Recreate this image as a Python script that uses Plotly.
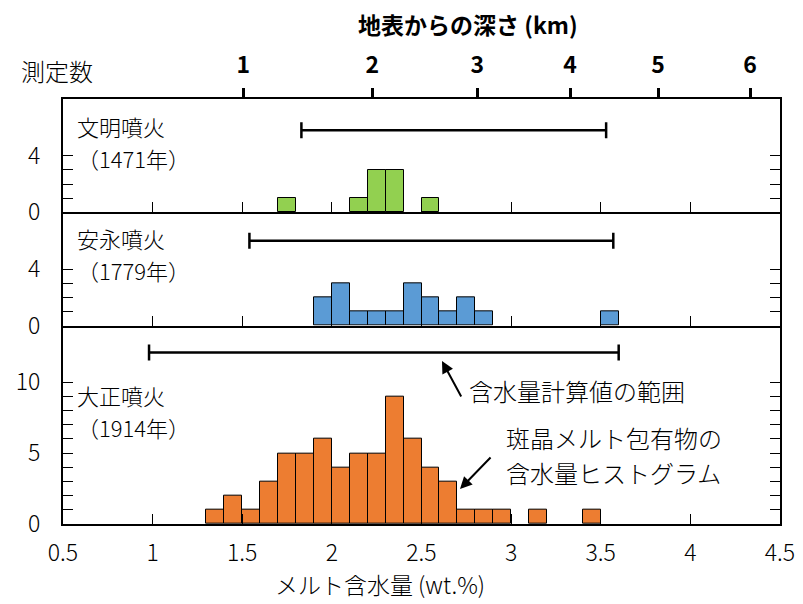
import plotly.graph_objects as go

# ---------------- data ----------------
# histogram bins (left edge, wt.%) and counts, bin width 0.1
bin_width = 0.1
bunmei_bins = [1.7, 2.1, 2.2, 2.3, 2.5]
bunmei_counts = [1, 1, 3, 3, 1]

anei_bins = [1.9, 2.0, 2.1, 2.2, 2.3, 2.4, 2.5, 2.6, 2.7, 2.8, 3.5]
anei_counts = [2, 3, 1, 1, 1, 3, 2, 1, 2, 1, 1]

taisho_bins = [1.3, 1.4, 1.5, 1.6, 1.7, 1.8, 1.9, 2.0, 2.1, 2.2,
               2.3, 2.4, 2.5, 2.6, 2.7, 2.8, 2.9, 3.1, 3.4]
taisho_counts = [1, 2, 1, 3, 5, 5, 6, 4, 5, 5,
                 9, 6, 4, 3, 1, 1, 1, 1, 1]

# range of calculated water content (lo, hi) and the height it is drawn at
range_lo = {"bunmei": 1.83, "anei": 1.54, "taisho": 0.98}
range_hi = {"bunmei": 3.53, "anei": 3.57, "taisho": 3.60}
range_level = {"bunmei": 5.8, "anei": 6.0, "taisho": 12.1}

# top axis: depth below surface (km) and its position on the water-content scale
depth_labels = ["1", "2", "3", "4", "5", "6"]
depth_water = [1.506, 2.225, 2.811, 3.329, 3.820, 4.333]

x_ticks = [0.5, 1.0, 1.5, 2.0, 2.5, 3.0, 3.5, 4.0, 4.5]
x_ticktext = ["0.5", "1", "1.5", "2", "2.5", "3", "3.5", "4", "4.5"]

colors = {"bunmei": "#92D050", "anei": "#5B9BD5", "taisho": "#ED7D31"}

FONT = "Noto Sans CJK JP, Noto Sans, sans-serif"
FS = 24
TFS = 23
LFS = 22

# page offset (body margin of the html page)
OFF = 8
W, H = 803 - OFF, 604 - OFF

# ---------------- figure ----------------
fig = go.Figure()

panels = [
    ("bunmei", bunmei_bins, bunmei_counts, "x3", "y3"),
    ("anei", anei_bins, anei_counts, "x2", "y2"),
    ("taisho", taisho_bins, taisho_counts, "x", "y"),
]

for key, bins, counts, xa, ya in panels:
    centers = [b + bin_width / 2 for b in bins]
    fig.add_trace(go.Bar(
        x=centers, y=counts, width=bin_width,
        marker=dict(color=colors[key], line=dict(color="black", width=1)),
        xaxis=xa, yaxis=ya, showlegend=False, hoverinfo="skip",
    ))
    lo, hi = range_lo[key], range_hi[key]
    fig.add_trace(go.Scatter(
        x=[(lo + hi) / 2], y=[range_level[key]],
        mode="markers", marker=dict(size=1, color="rgba(0,0,0,0)"),
        error_x=dict(type="data", array=[(hi - lo) / 2], symmetric=True,
                     color="black", thickness=2.5, width=8),
        xaxis=xa, yaxis=ya, showlegend=False, hoverinfo="skip",
    ))

# invisible trace for the top depth axis
fig.add_trace(go.Scatter(x=depth_water, y=[None] * len(depth_water),
                         xaxis="x4", yaxis="y3", mode="markers",
                         showlegend=False, hoverinfo="skip"))

H_TOP, H_MID, H_BOT = 8, 8, 14
TOT = H_TOP + H_MID + H_BOT
d_bot = [0, H_BOT / TOT]
d_mid = [H_BOT / TOT, (H_BOT + H_MID) / TOT]
d_top = [(H_BOT + H_MID) / TOT, 1]

tickfont = dict(family=FONT, size=TFS, color="black", weight=300)

xcommon = dict(range=[0.5, 4.5], showgrid=False, zeroline=False,
               showline=True, linewidth=2, linecolor="black",
               ticks="inside", ticklen=10, tickwidth=1.2, tickcolor="black",
               tickvals=x_ticks, ticktext=x_ticktext, automargin=False)

ycommon = dict(showgrid=False, zeroline=False, showline=True, linewidth=2,
               linecolor="black", mirror="ticks", ticks="inside", ticklen=10,
               tickwidth=1.2, tickcolor="black", automargin=False,
               tickfont=tickfont, ticklabelstandoff=16)

# plot area in page pixels: x 63..780, y 99..524
fig.update_layout(
    width=W, height=H,
    margin=dict(l=63 - OFF, r=W - (780 - OFF), t=99 - OFF, b=H - (524 - OFF),
                autoexpand=False),
    paper_bgcolor="white", plot_bgcolor="white",
    bargap=0,
    font=dict(family=FONT, size=FS, color="black"),
    xaxis=dict(**xcommon, anchor="y", showticklabels=True, mirror=False,
               tickfont=tickfont, ticklabelstandoff=7),
    xaxis2=dict(**xcommon, anchor="y2", showticklabels=False, matches="x",
                mirror=False),
    xaxis3=dict(**xcommon, anchor="y3", showticklabels=False, matches="x",
                mirror=True),
    xaxis4=dict(range=[0.5, 4.5], overlaying="x3", anchor="y3", side="top",
                showgrid=False, zeroline=False, showline=False, automargin=False,
                ticks="outside", ticklen=10, tickwidth=2.5, tickcolor="black",
                tickvals=depth_water, ticktext=["<b>%s</b>" % t for t in depth_labels],
                tickfont=dict(family=FONT, size=TFS, color="black"),
                ticklabelstandoff=6),
    yaxis=dict(**ycommon, domain=d_bot, range=[0, H_BOT],
               tickvals=list(range(0, 11)),
               ticktext=["0", "", "", "", "", "5", "", "", "", "", "10"]),
    yaxis2=dict(**ycommon, domain=d_mid, range=[0, H_MID],
                tickvals=[0, 1, 2, 3, 4], ticktext=["0", "", "", "", "4"]),
    yaxis3=dict(**ycommon, domain=d_top, range=[0, H_TOP],
                tickvals=[0, 1, 2, 3, 4], ticktext=["0", "", "", "", "4"]),
)

def px_x(px):
    return (px - 63) / 717.0

def px_y(py):
    return (524 - py) / 425.0

ann = []
# axis titles
ann.append(dict(text="<b>地表からの深さ (km)</b>", x=px_x(468), y=px_y(24),
                xanchor="center", yanchor="middle", size=23))
ann.append(dict(text="測定数", x=px_x(57), y=px_y(70),
                xanchor="center", yanchor="middle"))
ann.append(dict(text="メルト含水量 (wt.%)", x=px_x(380), y=px_y(584),
                xanchor="center", yanchor="middle", size=23))
# panel labels
ann.append(dict(text="文明噴火", x=px_x(76), y=px_y(126), size=LFS))
ann.append(dict(text="（1471年）", x=px_x(76), y=px_y(158), size=LFS))
ann.append(dict(text="安永噴火", x=px_x(76), y=px_y(238), size=LFS))
ann.append(dict(text="（1779年）", x=px_x(76), y=px_y(270), size=LFS))
ann.append(dict(text="大正噴火", x=px_x(76), y=px_y(395), size=LFS))
ann.append(dict(text="（1914年）", x=px_x(76), y=px_y(427), size=LFS))
# explanation texts
ann.append(dict(text="含水量計算値の範囲", x=px_x(468), y=px_y(390)))
ann.append(dict(text="斑晶メルト包有物の", x=px_x(505), y=px_y(437)))
ann.append(dict(text="含水量ヒストグラム", x=px_x(505), y=px_y(472)))
for a in ann:
    size = a.pop("size", FS)
    a.setdefault("xanchor", "left")
    a.setdefault("yanchor", "middle")
    a.update(xref="paper", yref="paper", showarrow=False, borderpad=0,
             font=dict(family=FONT, size=size, color="black", weight=300))

# arrows
ann.append(dict(text="", x=px_x(442), y=px_y(361), xref="paper", yref="paper",
                ax=20, ay=37, showarrow=True, arrowhead=2, arrowsize=1.2,
                arrowwidth=2, arrowcolor="black"))
ann.append(dict(text="", x=px_x(460), y=px_y(489), xref="paper", yref="paper",
                ax=32, ay=-33, showarrow=True, arrowhead=2, arrowsize=1.2,
                arrowwidth=2, arrowcolor="black"))

fig.update_layout(annotations=ann)

fig.write_html("out.html")
